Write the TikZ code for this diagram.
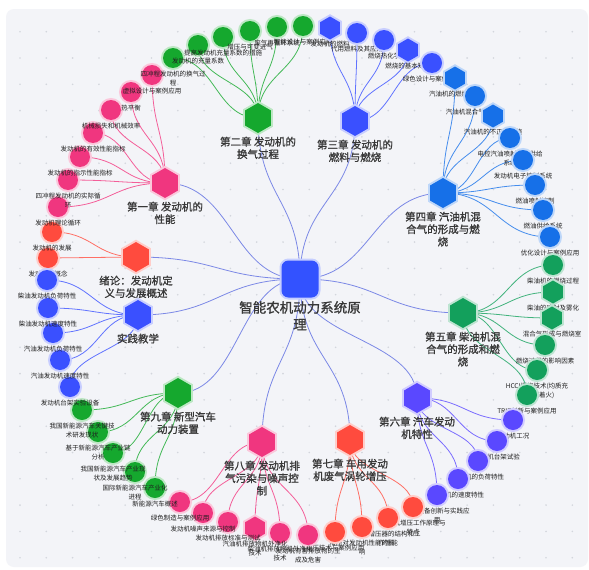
\documentclass[tikz,border=0pt]{standalone}
\usepackage{fontspec}
\setmainfont{Noto Sans CJK SC}
\newfontfamily\semib[FakeBold=1.2]{Noto Sans CJK SC}
\usetikzlibrary{shapes.geometric,calc}
\pgfdeclarelayer{back}\pgfdeclarelayer{edges}
\pgfsetlayers{back,edges,main}
\definecolor{cpink}{HTML}{F0367F}
\definecolor{cgreen}{HTML}{15A82E}
\definecolor{cblue}{HTML}{3A50FF}
\definecolor{cazure}{HTML}{1670E8}
\definecolor{cteal}{HTML}{13A05C}
\definecolor{cpurple}{HTML}{5A48FF}
\definecolor{cred}{HTML}{FF4B3E}
\definecolor{croot}{HTML}{3352FF}
\definecolor{cedge}{HTML}{5A6AE0}
\definecolor{panel}{HTML}{F3F4F8}
\definecolor{dotc}{HTML}{D3D6DD}
\tikzset{
 glowc/.style={circle, minimum size=20pt, inner sep=0pt, fill=#1, preaction={draw=#1!28, line width=4pt}},
 glowh/.style={regular polygon, regular polygon sides=6, shape border rotate=30, minimum size=23pt, inner sep=0pt, fill=#1, preaction={draw=#1!28, line width=4pt}},
 chaphex/.style={glowh=#1, minimum size=30pt},
 lab/.style={font=\fontsize{6.5}{8.5}\selectfont, text=black!88, align=center, inner sep=0pt, anchor=north},
 chlab/.style={font=\semib\fontsize{10.5}{12.5}\selectfont, text=black!78, align=center, inner sep=0pt, anchor=north},
 lk/.style={draw=#1!80, line width=0.8pt},
}
\newcommand\leaf[5]{\node[#3=#4] (#1) at (#2) {};
 \node[lab] (#1t) at ($(#1)+(0,13)$) {#5};}
\newcommand\chap[4]{\node[chaphex=#3] (#1) at (#2) {};
 \node[chlab] (#1t) at ($(#1)+(0,18.5)$) {#4};}
\newcommand\lnk[3]{%
 \pgfpointdiff{\pgfpointanchor{#1}{center}}{\pgfpointanchor{#2}{center}}%
 \pgfgetlastxy{\dX}{\dY}%
 \pgfmathparse{abs(\dX)>abs(\dY)?1:0}%
 \coordinate (M) at ($(#1)!0.5!(#2)$);
 \ifdim\pgfmathresult pt>0.5pt
  \draw[lk=#3] (#1.center) .. controls (M |- #1.center) and (M |- #2.center) .. (#2.center);
 \else
  \draw[lk=#3] (#1.center) .. controls (#1.center |- M) and (#2.center |- M) .. (#2.center);
 \fi}
\begin{document}
\begin{tikzpicture}[x=1pt,y=-1pt]
\useasboundingbox (0,0) rectangle (589,570);
\begin{pgfonlayer}{back}
\fill[white] (0,0) rectangle (589,570);
\fill[panel, rounded corners=8pt] (6,9) rectangle (588,567);
\foreach \i in {0,...,21}{\foreach \j in {0,...,20}{
 \fill[dotc] ({20+26.3*\i},{31.7+26.3*\j}) circle (0.9);}}
\end{pgfonlayer}

% 绪论
\leaf{a1}{48,258}{glowc}{cred}{发动机的概念}
\leaf{a2}{52,232}{glowc}{cred}{发动机的发展}
\chap{x0}{136,257}{cred}{绪论：发动机定\\义与发展概述}
% 第一章
\leaf{b1}{58,207}{glowc}{cpink}{发动机理论循环}
\leaf{b2}{68,180}{glowc}{cpink}{四冲程发动机的实际循\\环}
\leaf{b3}{80,157}{glowc}{cpink}{发动机的指示性能指标}
\leaf{b4}{93,133}{glowc}{cpink}{发动机的有效性能指标}
\leaf{b5}{111,110}{glowc}{cpink}{机械损失和机械效率}
\leaf{b6}{131,92}{glowc}{cpink}{热平衡}
\leaf{b7}{152,75}{glowc}{cpink}{虚拟设计与案例应用}
\chap{x1}{165,183}{cpink}{第一章 发动机的\\性能}
% 第二章
\leaf{c1}{173,58}{glowc}{cgreen}{四冲程发动机的换气过\\程}
\leaf{c2}{198,45}{glowc}{cgreen}{发动机的充量系数}
\leaf{c3}{223,37}{glowc}{cgreen}{提高发动机充量系数的措施}
\leaf{c4}{250,31}{glowc}{cgreen}{增压与可变进气}
\leaf{c5}{277,27}{glowc}{cgreen}{废气再循环系统}
\leaf{c6}{303,26}{glowc}{cgreen}{智能设计与案例应用}
\chap{x2}{258,118}{cgreen}{第二章 发动机的\\换气过程}
% 第三章
\leaf{d1}{330,28}{glowh}{cblue}{发动机的燃料}
\leaf{d2}{357,33}{glowc}{cblue}{代用燃料及其应用}
\leaf{d3}{384,40}{glowc}{cblue}{燃烧热化学}
\leaf{d4}{408,50}{glowh}{cblue}{燃烧的基本知识}
\leaf{d5}{432,63}{glowc}{cblue}{绿色设计与案例应用}
\chap{x3}{355,121}{cblue}{第三章 发动机的\\燃料与燃烧}
% 第四章
\leaf{e1}{455,78}{glowh}{cazure}{汽油机的燃烧过程}
\leaf{e2}{475,96}{glowc}{cazure}{汽油机混合气的形成}
\leaf{e3}{493,116}{glowh}{cazure}{汽油机的不正常燃烧}
\leaf{e4}{510,138}{glowc}{cazure}{电控汽油喷射燃油供给\\系统}
\leaf{e5}{523,160}{glowc}{cazure}{发动机电子控制系统}
\leaf{e6}{535,185}{glowc}{cazure}{燃油喷射控制}
\leaf{e7}{543,210}{glowc}{cazure}{燃油供给系统}
\leaf{e8}{550,237}{glowc}{cazure}{优化设计与案例应用}
\chap{x4}{443,193}{cazure}{第四章 汽油机混\\合气的形成与燃\\烧}
% 第五章
\leaf{f1}{553,265}{glowc}{cteal}{柴油机的燃烧过程}
\leaf{f2}{553,292}{glowh}{cteal}{柴油的喷射及雾化}
\leaf{f3}{552,318}{glowh}{cteal}{混合气形成与燃烧室}
\leaf{f4}{545,345}{glowc}{cteal}{燃烧过程的影响因素}
\leaf{f5}{537,370}{glowc}{cteal}{HCCI燃烧技术(均质充\\量压燃着火)}
\leaf{f6}{527,395}{glowc}{cteal}{TRIZ创新与案例应用}
\chap{x5}{463,313}{cteal}{第五章 柴油机混\\合气的形成和燃\\烧}
% 第六章
\leaf{g1}{513,420}{glowc}{cpurple}{发动机工况}
\leaf{g2}{497,441}{glowc}{cpurple}{发动机台架试验}
\leaf{g3}{478,461}{glowc}{cpurple}{发动机的负荷特性}
\leaf{g4}{458,479}{glowc}{cpurple}{发动机的速度特性}
\leaf{g5}{437,495}{glowc}{cpurple}{智能装备创新与实践应\\用}
\chap{x6}{417,398}{cpurple}{第六章 汽车发动\\机特性}
% 第七章
\leaf{h1}{413,507}{glowc}{cred}{发动机增压工作原理与\\特点}
\leaf{h2}{388,518}{glowc}{cred}{涡轮增压器的结构和工\\作性能}
\leaf{h3}{362,527}{glowc}{cred}{增压对发动机性能的影\\响}
\leaf{h4}{335,532}{glowc}{cred}{增压技术与案例应用}
\chap{x7}{350,440}{cred}{第七章 车用发动\\机废气涡轮增压}
% 第八章
\leaf{i1}{308,535}{glowc}{cpink}{发动机有害排放物的生\\成及危害}
\leaf{i2}{280,533}{glowc}{cpink}{柴油机排放物机外净化\\技术}
\leaf{i3}{255,528}{glowh}{cpink}{汽油机排放物机外净化\\技术}
\leaf{i4}{228,522}{glowc}{cpink}{发动机排放标准与测试}
\leaf{i5}{203,513}{glowc}{cpink}{发动机噪声来源与控制}
\leaf{i6}{180,502}{glowc}{cpink}{绿色制造与案例应用}
\chap{x8}{262,442}{cpink}{第八章 发动机排\\气污染与噪声控\\制}
% 第九章
\leaf{j1}{155,488}{glowc}{cgreen}{新能源汽车概述}
\leaf{j2}{135,472}{glowc}{cgreen}{国际新能源汽车产业化\\进程}
\leaf{j3}{113,453}{glowc}{cgreen}{我国新能源汽车产业现\\状及发展趋势}
\leaf{j4}{98,432}{glowc}{cgreen}{基于新能源汽车产业链\\分析}
\leaf{j5}{82,410}{glowc}{cgreen}{我国新能源汽车关键技\\术研发现状}
\chap{x9}{178,393}{cgreen}{第九章 新型汽车\\动力装置}
% 实践教学
\leaf{k1}{70,387}{glowc}{cblue}{发动机台架实验设备}
\leaf{k2}{60,360}{glowc}{cblue}{汽油发动机速度特性}
\leaf{k3}{53,333}{glowc}{cblue}{汽油发动机负荷特性}
\leaf{k4}{48,308}{glowc}{cblue}{柴油发动机速度特性}
\leaf{k5}{47,280}{glowc}{cblue}{柴油发动机负荷特性}
\chap{x10}{138,315}{cblue}{实践教学}
% root
\node[rounded corners=7pt, minimum size=37pt, inner sep=0pt, fill=croot, preaction={draw=croot!28, line width=4pt}] (R) at (300,279) {};
\node[font=\semib\fontsize{13.5}{17}\selectfont, text=black!78, anchor=north, align=center, inner sep=0pt] (Rt) at (300,301) {智能农机动力系统原\\理};

\begin{pgfonlayer}{edges}
\foreach \c in {x0,x1,x2,x3,x4,x5,x6,x7,x8,x9,x10}{\lnk{R}{\c}{cedge}}
\foreach \n in {a1,a2}{\lnk{x0}{\n}{cred}}
\foreach \n in {b1,b2,b3,b4,b5,b6,b7}{\lnk{x1}{\n}{cpink}}
\foreach \n in {c1,c2,c3,c4,c5,c6}{\lnk{x2}{\n}{cgreen}}
\foreach \n in {d1,d2,d3,d4,d5}{\lnk{x3}{\n}{cblue}}
\foreach \n in {e1,e2,e3,e4,e5,e6,e7,e8}{\lnk{x4}{\n}{cazure}}
\foreach \n in {f1,f2,f3,f4,f5,f6}{\lnk{x5}{\n}{cteal}}
\foreach \n in {g1,g2,g3,g4,g5}{\lnk{x6}{\n}{cpurple}}
\foreach \n in {h1,h2,h3,h4}{\lnk{x7}{\n}{cred}}
\foreach \n in {i1,i2,i3,i4,i5,i6}{\lnk{x8}{\n}{cpink}}
\foreach \n in {j1,j2,j3,j4,j5}{\lnk{x9}{\n}{cgreen}}
\foreach \n in {k1,k2,k3,k4,k5}{\lnk{x10}{\n}{cblue}}
\end{pgfonlayer}
\end{tikzpicture}
\end{document}
